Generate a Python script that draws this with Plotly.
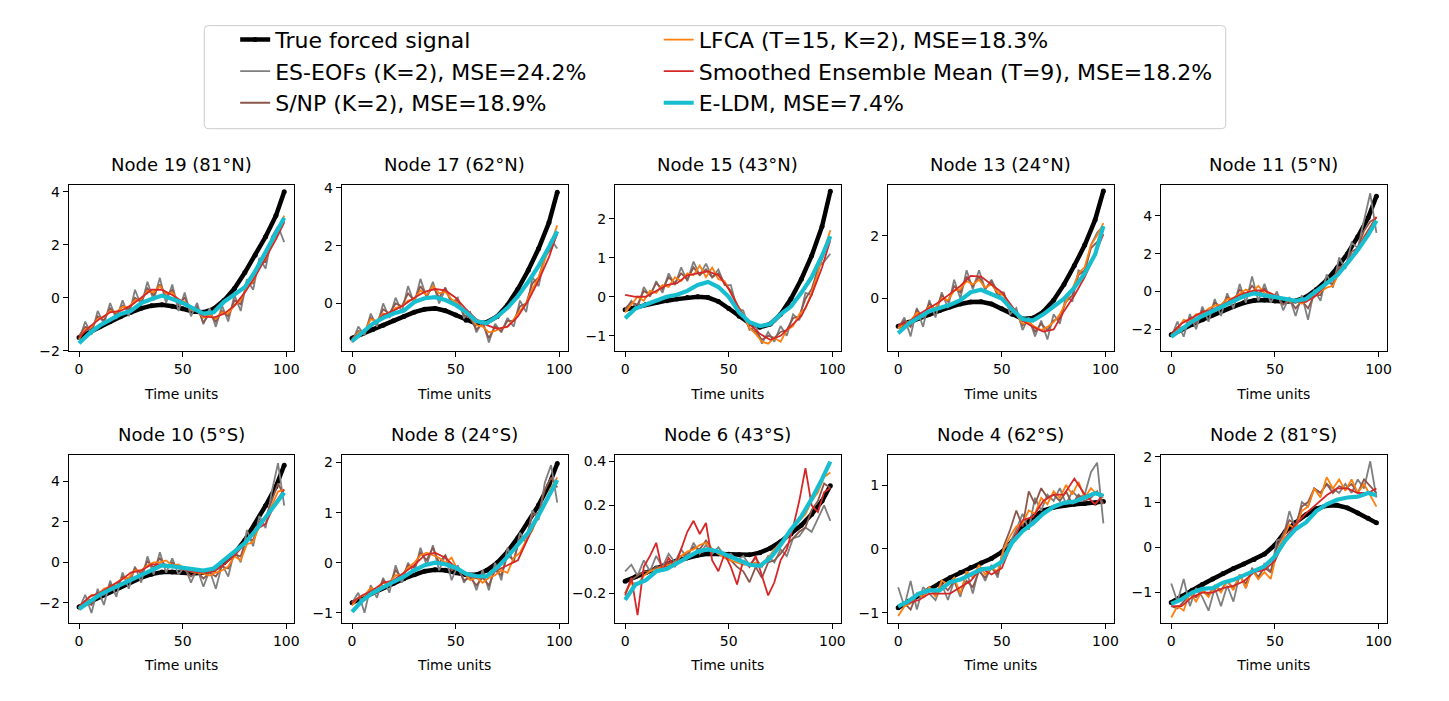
import plotly.graph_objects as go

W, H = 1449, 701

# ---------------- data ----------------
T_NOISY = list(range(0, 100, 3))          # 34 time points
T_SMOOTH = list(range(0, 100, 5)) + [99]  # 21 time points

titles = ["Node 19 (81°N)", "Node 17 (62°N)", "Node 15 (43°N)", "Node 13 (24°N)", "Node 11 (5°N)",
          "Node 10 (5°S)", "Node 8 (24°S)", "Node 6 (43°S)", "Node 4 (62°S)", "Node 2 (81°S)"]

series_names = ["True forced signal", "ES-EOFs (K=2), MSE=24.2%", "S/NP (K=2), MSE=18.9%",
                "LFCA (T=15, K=2), MSE=18.3%", "Smoothed Ensemble Mean (T=9), MSE=18.2%", "E-LDM, MSE=7.4%"]

# Node 19
true_n19 = [-1.5, -1.3, -1.1, -0.9, -0.72, -0.55, -0.4, -0.3, -0.27, -0.32, -0.42, -0.52, -0.55, -0.42, -0.1, 0.35, 0.95, 1.6, 2.3, 3.1, 4.0]
eseofs_n19 = [-1.6, -0.9, -1.4, -0.5, -1.0, -0.2, -0.8, -0.1, -0.7, 0.3, -0.3, 0.6, -0.1, 0.75, -0.2, 0.5, -0.5, 0.2, -0.7, -0.2, -1.0, -0.4, -1.1, -0.3, -0.9, 0.1, -0.5, 0.7, 0.3, 1.5, 1.1, 2.3, 2.7, 2.1]
snp_n19 = [-1.45, -1.1, -1.2, -0.7, -0.85, -0.4, -0.65, -0.3, -0.45, 0.0, -0.15, 0.35, 0.1, 0.5, 0.05, 0.3, -0.25, 0.0, -0.5, -0.35, -0.95, -0.6, -0.9, -0.5, -0.7, -0.1, -0.25, 0.5, 0.55, 1.3, 1.35, 2.1, 2.4, 2.9]
lfca_n19 = [-1.55, -1.2, -1.1, -0.8, -0.72, -0.5, -0.55, -0.35, -0.35, -0.1, -0.05, 0.25, 0.2, 0.45, 0.15, 0.2, -0.1, -0.15, -0.45, -0.5, -0.75, -0.65, -0.8, -0.55, -0.6, -0.3, -0.1, 0.4, 0.6, 1.2, 1.45, 2.0, 2.5, 3.1]
sem_n19 = [-1.5, -1.1, -0.8, -0.55, -0.5, -0.3, 0.0, 0.3, 0.3, 0.1, -0.15, -0.4, -0.7, -0.75, -0.6, -0.3, 0.2, 0.8, 1.5, 2.2, 2.85]
eldm_n19 = [-1.72, -1.35, -1.05, -0.82, -0.62, -0.5, -0.2, -0.05, 0.08, -0.05, -0.2, -0.4, -0.6, -0.55, -0.15, 0.12, 0.4, 1.0, 1.75, 2.45, 3.02]

# Node 17
true_n17 = [-1.2, -1.05, -0.9, -0.75, -0.6, -0.45, -0.3, -0.2, -0.17, -0.25, -0.4, -0.58, -0.7, -0.65, -0.45, -0.05, 0.5, 1.15, 1.9, 2.8, 3.85]
eseofs_n17 = [-1.35, -0.8, -1.1, -0.35, -0.8, 0.0, -0.5, 0.2, -0.3, 0.6, 0.0, 0.85, 0.2, 0.75, 0.0, 0.5, 0.0, 0.2, -0.5, -0.3, -1.0, -0.6, -1.35, -0.7, -1.0, -0.5, -0.8, 0.1, -0.3, 0.9, 0.6, 1.6, 2.2, 1.9]
snp_n17 = [-1.3, -0.95, -1.0, -0.5, -0.65, -0.2, -0.35, 0.0, -0.1, 0.35, 0.1, 0.6, 0.25, 0.6, 0.2, 0.55, 0.05, 0.1, -0.4, -0.5, -0.9, -0.7, -1.2, -0.8, -0.95, -0.6, -0.6, -0.1, 0.0, 0.7, 0.9, 1.6, 1.9, 2.4]
lfca_n17 = [-1.25, -1.0, -0.95, -0.55, -0.6, -0.35, -0.4, -0.15, -0.1, 0.1, 0.15, 0.45, 0.3, 0.6, 0.35, 0.4, 0.15, 0.0, -0.3, -0.45, -0.75, -0.8, -1.0, -0.95, -0.85, -0.8, -0.55, -0.25, 0.0, 0.5, 0.9, 1.5, 2.1, 2.7]
sem_n17 = [-1.2, -1.0, -0.75, -0.4, -0.25, -0.05, 0.2, 0.4, 0.5, 0.45, 0.2, -0.2, -0.55, -0.75, -0.88, -0.8, -0.45, 0.1, 0.8, 1.6, 2.45]
eldm_n17 = [-1.3, -1.0, -0.7, -0.5, -0.35, -0.25, 0.05, 0.18, 0.22, 0.12, -0.05, -0.3, -0.62, -0.68, -0.45, -0.15, 0.25, 0.75, 1.3, 1.95, 2.5]

# Node 15
true_n15 = [-0.33, -0.27, -0.2, -0.15, -0.1, -0.06, -0.02, 0.0, -0.02, -0.12, -0.3, -0.5, -0.68, -0.78, -0.7, -0.45, -0.05, 0.45, 1.05, 1.8, 2.7]
eseofs_n15 = [-0.35, -0.1, -0.3, 0.25, 0.0, 0.4, 0.1, 0.6, 0.3, 0.75, 0.4, 0.9, 0.55, 0.85, 0.5, 0.7, 0.3, 0.3, -0.3, -0.35, -0.85, -0.75, -1.2, -0.9, -1.15, -0.75, -1.0, -0.45, -0.6, 0.1, 0.05, 0.75, 0.9, 1.1]
snp_n15 = [-0.3, -0.15, -0.2, 0.15, 0.05, 0.35, 0.2, 0.5, 0.35, 0.6, 0.45, 0.75, 0.55, 0.7, 0.5, 0.6, 0.35, 0.15, -0.2, -0.5, -0.8, -0.9, -1.1, -1.0, -1.05, -0.9, -0.85, -0.55, -0.5, -0.05, 0.2, 0.7, 1.1, 1.5]
lfca_n15 = [-0.4, -0.2, 0.0, -0.1, 0.15, 0.1, 0.3, 0.25, 0.5, 0.4, 0.6, 0.55, 0.8, 0.5, 0.75, 0.45, 0.4, 0.1, -0.2, -0.45, -0.8, -0.95, -1.15, -1.2, -1.05, -1.15, -0.85, -0.75, -0.45, -0.3, 0.1, 0.6, 1.2, 1.7]
sem_n15 = [0.05, 0.0, 0.0, 0.15, 0.3, 0.35, 0.55, 0.6, 0.65, 0.55, 0.2, -0.3, -0.7, -0.95, -1.1, -1.0, -0.75, -0.5, 0.05, 0.75, 1.45]
eldm_n15 = [-0.55, -0.3, -0.2, -0.1, 0.0, 0.05, 0.15, 0.3, 0.38, 0.25, 0.0, -0.4, -0.65, -0.75, -0.7, -0.45, -0.25, 0.1, 0.5, 1.05, 1.55]

# Node 13
true_n13 = [-0.88, -0.75, -0.62, -0.5, -0.38, -0.27, -0.17, -0.11, -0.1, -0.17, -0.32, -0.5, -0.65, -0.62, -0.42, -0.05, 0.45, 1.05, 1.7, 2.5, 3.42]
eseofs_n13 = [-0.95, -0.6, -1.2, -0.3, -0.9, -0.05, -0.6, 0.2, -0.3, 0.6, 0.0, 0.9, 0.3, 0.9, 0.3, 0.6, 0.2, 0.2, -0.5, -0.3, -1.0, -0.6, -1.2, -0.7, -1.3, -0.5, -0.8, 0.1, -0.1, 0.9, 0.8, 1.7, 2.1, 2.3]
snp_n13 = [-0.9, -0.7, -0.9, -0.35, -0.6, -0.15, -0.35, 0.1, -0.1, 0.4, 0.2, 0.7, 0.4, 0.7, 0.3, 0.55, 0.1, 0.15, -0.35, -0.4, -0.85, -0.7, -1.05, -0.8, -1.0, -0.7, -0.6, -0.1, 0.1, 0.75, 0.9, 1.6, 1.8, 2.2]
lfca_n13 = [-0.95, -0.8, -0.7, -0.45, -0.5, -0.25, -0.3, 0.0, -0.05, 0.25, 0.3, 0.55, 0.45, 0.6, 0.35, 0.45, 0.2, 0.1, -0.3, -0.5, -0.8, -0.75, -0.9, -1.0, -0.9, -0.75, -0.5, -0.1, 0.3, 0.8, 1.0, 1.7, 2.0, 2.4]
sem_n13 = [-0.85, -0.75, -0.5, -0.3, -0.1, 0.15, 0.4, 0.72, 0.7, 0.45, 0.2, -0.25, -0.7, -0.9, -1.05, -0.98, -0.4, 0.1, 0.68, 1.4, 2.05]
eldm_n13 = [-1.1, -0.8, -0.6, -0.4, -0.3, -0.2, -0.05, 0.2, 0.28, 0.15, 0.0, -0.35, -0.65, -0.7, -0.5, -0.25, 0.0, 0.35, 0.8, 1.4, 2.3]

# Node 11
true_n11 = [-2.3, -2.0, -1.75, -1.5, -1.25, -1.0, -0.8, -0.6, -0.48, -0.45, -0.5, -0.55, -0.5, -0.3, 0.1, 0.6, 1.25, 2.0, 2.9, 3.9, 5.05]
eseofs_n11 = [-2.4, -1.6, -2.4, -1.2, -2.0, -0.8, -1.6, -0.4, -1.3, -0.1, -0.9, 0.4, -0.6, 0.8, -0.5, 0.4, -0.6, 0.0, -1.0, -0.3, -1.3, -0.2, -1.5, 0.1, -0.5, 0.9, 0.2, 1.8, 1.2, 2.6, 2.3, 3.8, 5.2, 3.1]
snp_n11 = [-2.3, -1.9, -2.0, -1.4, -1.7, -1.0, -1.2, -0.6, -0.8, -0.3, -0.5, 0.1, -0.2, 0.3, -0.1, 0.15, -0.3, -0.2, -0.7, -0.4, -0.9, -0.5, -0.9, -0.2, -0.2, 0.5, 0.4, 1.3, 1.3, 2.1, 2.3, 3.2, 3.7, 3.9]
lfca_n11 = [-2.3, -2.0, -1.5, -1.6, -1.2, -1.2, -0.9, -0.75, -0.7, -0.4, -0.35, -0.1, 0.1, -0.05, 0.3, -0.1, -0.1, -0.3, -0.4, -0.55, -0.5, -0.65, -0.45, -0.3, 0.0, 0.2, 0.3, 1.0, 1.3, 1.8, 2.2, 2.9, 3.4, 3.95]
sem_n11 = [-2.25, -1.7, -1.4, -1.1, -0.95, -0.7, -0.35, -0.1, 0.05, 0.05, -0.2, -0.45, -0.55, -0.55, -0.2, 0.4, 1.0, 1.6, 2.3, 3.2, 3.95]
eldm_n11 = [-2.4, -2.0, -1.6, -1.3, -1.05, -0.8, -0.55, -0.25, -0.1, -0.2, -0.3, -0.45, -0.5, -0.4, 0.0, 0.45, 0.85, 1.5, 2.2, 3.0, 3.75]

# Node 10
true_n10 = [-2.2, -1.95, -1.7, -1.45, -1.2, -0.95, -0.75, -0.58, -0.48, -0.47, -0.5, -0.55, -0.5, -0.35, 0.0, 0.45, 1.1, 1.9, 2.8, 3.75, 4.8]
eseofs_n10 = [-2.3, -1.6, -2.5, -1.3, -2.1, -0.9, -1.7, -0.5, -1.3, -0.2, -1.0, 0.3, -0.6, 0.5, -0.5, 0.2, -0.6, -0.2, -1.0, -0.3, -1.2, -0.4, -1.3, -0.1, -0.7, 0.6, 0.0, 1.6, 0.8, 2.3, 1.7, 3.5, 4.9, 2.8]
snp_n10 = [-2.2, -1.9, -2.1, -1.5, -1.6, -1.1, -1.2, -0.7, -0.85, -0.3, -0.55, 0.05, -0.25, 0.2, -0.2, 0.0, -0.3, -0.35, -0.7, -0.45, -0.8, -0.5, -0.7, -0.2, -0.3, 0.4, 0.3, 1.2, 1.1, 2.0, 2.2, 3.1, 3.9, 3.3]
lfca_n10 = [-2.35, -2.0, -1.6, -1.6, -1.3, -1.2, -1.0, -0.8, -0.75, -0.4, -0.4, -0.15, 0.0, 0.0, 0.1, -0.15, -0.1, -0.3, -0.45, -0.5, -0.55, -0.65, -0.5, -0.4, -0.2, 0.3, 0.1, 0.9, 1.0, 1.8, 2.2, 2.8, 3.5, 3.6]
sem_n10 = [-2.2, -1.7, -1.5, -1.2, -0.9, -0.5, -0.4, -0.1, -0.1, -0.15, -0.35, -0.45, -0.5, -0.45, -0.1, 0.35, 0.9, 1.6, 1.9, 3.0, 3.6]
eldm_n10 = [-2.3, -1.95, -1.6, -1.35, -1.1, -0.85, -0.6, -0.35, -0.15, -0.2, -0.25, -0.35, -0.4, -0.3, 0.1, 0.55, 0.95, 1.55, 2.2, 2.9, 3.45]

# Node 8
true_n8 = [-0.8, -0.7, -0.6, -0.5, -0.41, -0.32, -0.24, -0.17, -0.14, -0.15, -0.2, -0.24, -0.24, -0.15, 0.0, 0.22, 0.5, 0.82, 1.15, 1.55, 1.98]
eseofs_n8 = [-0.8, -0.6, -1.0, -0.45, -0.7, -0.3, -0.6, -0.05, -0.4, 0.0, -0.2, 0.3, -0.05, 0.35, -0.15, 0.15, -0.35, -0.05, -0.4, -0.2, -0.55, -0.15, -0.55, 0.0, -0.35, 0.3, 0.0, 0.6, 0.4, 1.05, 0.85, 1.6, 1.95, 1.2]
snp_n8 = [-0.8, -0.7, -0.75, -0.5, -0.6, -0.35, -0.45, -0.15, -0.3, -0.05, -0.1, 0.2, 0.05, 0.3, 0.0, 0.15, -0.15, -0.1, -0.35, -0.3, -0.45, -0.3, -0.45, -0.15, -0.25, 0.15, 0.05, 0.5, 0.5, 0.95, 1.0, 1.45, 1.7, 1.5]
lfca_n8 = [-0.85, -0.7, -0.65, -0.5, -0.55, -0.4, -0.4, -0.25, -0.25, -0.1, 0.0, 0.15, 0.2, 0.15, 0.1, 0.0, 0.1, -0.15, -0.2, -0.35, -0.3, -0.4, -0.3, -0.25, -0.15, -0.2, 0.1, 0.2, 0.45, 0.65, 0.95, 1.2, 1.5, 1.7]
sem_n8 = [-0.8, -0.65, -0.55, -0.4, -0.35, -0.2, -0.05, 0.15, 0.2, 0.1, -0.1, -0.25, -0.3, -0.28, -0.15, -0.05, 0.05, 0.5, 0.95, 1.35, 1.6]
eldm_n8 = [-0.98, -0.75, -0.6, -0.48, -0.38, -0.28, -0.15, -0.05, 0.0, -0.03, -0.1, -0.22, -0.27, -0.27, -0.1, 0.12, 0.35, 0.6, 0.95, 1.35, 1.65]

# Node 6
true_n6 = [-0.145, -0.125, -0.105, -0.085, -0.068, -0.052, -0.038, -0.027, -0.02, -0.02, -0.022, -0.025, -0.025, -0.015, 0.005, 0.035, 0.07, 0.11, 0.16, 0.22, 0.29]
eseofs_n6 = [-0.1, -0.07, -0.12, -0.05, -0.1, -0.03, -0.08, -0.02, -0.06, 0.0, -0.04, 0.03, -0.02, 0.02, -0.02, 0.01, -0.03, -0.02, -0.05, -0.03, -0.07, -0.04, -0.08, -0.03, -0.06, 0.0, -0.03, 0.05, 0.06, 0.1, 0.08, 0.14, 0.2, 0.13]
snp_n6 = [-0.2, -0.14, -0.12, -0.1, -0.1, -0.08, -0.08, -0.06, -0.06, -0.03, -0.02, 0.01, 0.0, 0.04, 0.0, -0.02, -0.03, -0.05, -0.08, -0.1, -0.15, -0.08, -0.13, -0.06, -0.05, -0.02, 0.02, 0.05, 0.08, 0.1, 0.18, 0.22, 0.3, 0.28]
lfca_n6 = [-0.2, -0.15, -0.16, -0.12, -0.1, -0.09, -0.08, -0.07, -0.06, -0.03, -0.01, 0.0, 0.02, 0.03, 0.0, -0.02, -0.04, -0.05, -0.06, -0.07, -0.07, -0.06, -0.07, -0.04, 0.0, 0.03, 0.05, 0.1, 0.13, 0.16, 0.22, 0.26, 0.33, 0.35]
sem_n6 = [-0.21, -0.13, -0.3, -0.08, -0.03, 0.03, -0.1, -0.04, -0.08, 0.0, 0.08, 0.13, 0.07, 0.12, -0.05, -0.1, -0.02, -0.08, -0.16, -0.05, -0.08, -0.03, -0.12, -0.21, -0.15, -0.05, 0.0, 0.1, 0.22, 0.37, 0.2, 0.17, 0.26, 0.28]
eldm_n6 = [-0.23, -0.16, -0.14, -0.1, -0.09, -0.065, -0.04, -0.01, 0.0, -0.01, -0.03, -0.05, -0.07, -0.075, -0.04, 0.02, 0.09, 0.15, 0.23, 0.32, 0.4]

# Node 4
true_n4 = [-0.92, -0.82, -0.72, -0.63, -0.54, -0.45, -0.37, -0.29, -0.22, -0.15, -0.05, 0.12, 0.33, 0.5, 0.6, 0.65, 0.68, 0.7, 0.71, 0.72, 0.74]
eseofs_n4 = [-0.6, -0.9, -0.5, -0.95, -0.6, -0.7, -0.8, -0.55, -0.8, -0.5, -0.75, -0.35, -0.7, -0.3, -0.5, -0.25, -0.45, 0.0, 0.1, 0.3, 0.55, 0.3, 0.8, 0.6, 0.85, 0.75, 0.95, 0.7, 0.9, 0.8, 0.85, 1.2, 1.35, 0.4]
snp_n4 = [-0.9, -0.85, -0.95, -0.7, -0.75, -0.6, -0.7, -0.55, -0.65, -0.5, -0.7, -0.5, -0.6, -0.35, -0.45, -0.3, -0.4, 0.05, 0.3, 0.6, 0.35, 0.9, 0.7, 0.95, 0.8, 0.85, 0.75, 0.9, 0.7, 0.85, 0.75, 0.8, 0.9, 0.7]
lfca_n4 = [-1.05, -0.9, -0.85, -0.7, -0.75, -0.6, -0.75, -0.5, -0.55, -0.45, -0.7, -0.35, -0.45, -0.25, -0.4, -0.3, -0.35, 0.0, 0.2, 0.35, 0.4, 0.6, 0.55, 0.8, 0.7, 0.9, 0.8, 1.0, 0.85, 1.05, 0.8, 0.95, 0.85, 0.8]
sem_n4 = [-0.9, -0.85, -0.8, -0.7, -0.7, -0.7, -0.6, -0.5, -0.3, -0.4, -0.3, 0.1, 0.45, 0.5, 0.75, 0.85, 0.85, 1.1, 0.85, 0.7, 0.85]
eldm_n4 = [-0.9, -0.82, -0.7, -0.65, -0.65, -0.52, -0.48, -0.4, -0.32, -0.3, -0.2, 0.1, 0.28, 0.4, 0.55, 0.66, 0.72, 0.74, 0.8, 0.87, 0.83]

# Node 2
true_n2 = [-1.22, -1.08, -0.95, -0.82, -0.7, -0.58, -0.47, -0.37, -0.27, -0.15, 0.05, 0.35, 0.55, 0.72, 0.85, 0.92, 0.93, 0.87, 0.76, 0.64, 0.54]
eseofs_n2 = [-0.8, -1.2, -0.7, -1.3, -0.9, -1.1, -1.4, -0.9, -1.3, -0.85, -1.2, -0.6, -0.9, -0.45, -0.7, -0.35, -0.55, 0.15, 0.2, 0.8, 0.4, 1.0, 0.9, 1.3, 1.2, 1.4, 1.3, 1.2, 1.4, 1.2, 1.5, 1.3, 1.9, 1.1]
snp_n2 = [-1.3, -1.35, -1.2, -1.05, -1.1, -0.95, -1.05, -0.85, -0.95, -0.75, -0.9, -0.65, -0.8, -0.5, -0.65, -0.45, -0.55, 0.0, 0.3, 0.6, 0.5, 0.9, 1.0, 1.3, 1.2, 1.4, 1.2, 1.35, 1.3, 1.4, 1.2, 1.5, 1.35, 1.2]
lfca_n2 = [-1.55, -1.3, -1.4, -1.0, -1.2, -0.95, -1.1, -0.85, -1.0, -0.75, -0.95, -0.6, -0.9, -0.5, -0.7, -0.55, -0.7, -0.1, 0.2, 0.5, 0.4, 0.8, 0.9, 1.3, 1.1, 1.55, 1.3, 1.5, 1.25, 1.5, 1.2, 1.4, 1.15, 0.9]
sem_n2 = [-1.3, -1.3, -1.1, -1.0, -1.0, -0.9, -0.85, -0.75, -0.55, -0.5, -0.3, 0.2, 0.5, 0.75, 0.95, 1.15, 1.3, 1.3, 1.2, 1.2, 1.3]
eldm_n2 = [-1.25, -1.15, -1.0, -0.92, -0.9, -0.78, -0.72, -0.62, -0.5, -0.42, -0.2, 0.15, 0.4, 0.55, 0.8, 0.95, 1.05, 1.1, 1.12, 1.2, 1.15]

panels = [
    (true_n19, eseofs_n19, snp_n19, lfca_n19, sem_n19, eldm_n19),
    (true_n17, eseofs_n17, snp_n17, lfca_n17, sem_n17, eldm_n17),
    (true_n15, eseofs_n15, snp_n15, lfca_n15, sem_n15, eldm_n15),
    (true_n13, eseofs_n13, snp_n13, lfca_n13, sem_n13, eldm_n13),
    (true_n11, eseofs_n11, snp_n11, lfca_n11, sem_n11, eldm_n11),
    (true_n10, eseofs_n10, snp_n10, lfca_n10, sem_n10, eldm_n10),
    (true_n8, eseofs_n8, snp_n8, lfca_n8, sem_n8, eldm_n8),
    (true_n6, eseofs_n6, snp_n6, lfca_n6, sem_n6, eldm_n6),
    (true_n4, eseofs_n4, snp_n4, lfca_n4, sem_n4, eldm_n4),
    (true_n2, eseofs_n2, snp_n2, lfca_n2, sem_n2, eldm_n2),
]

y_ticks = [[-2, 0, 2, 4], [0, 2, 4], [-1, 0, 1, 2], [0, 2], [-2, 0, 2, 4],
           [-2, 0, 2, 4], [-1, 0, 1, 2], [-0.2, 0.0, 0.2, 0.4], [-1, 0, 1], [-1, 0, 1, 2]]

# ---------------- layout / styles ----------------
Y_RANGES = [[-2.03, 4.27], [-1.66, 4.11], [-1.40, 2.87], [-1.68, 3.62], [-3.18, 5.66],
            [-3.01, 5.33], [-1.21, 2.16], [-0.337, 0.432], [-1.165, 1.477], [-1.68, 2.05]]
X_RANGE = [-4.95, 103.95]
AX_LEFT = [69, 343, 617, 891, 1165]
AX_W = 226.5
ROW_TOP = [182, 457]
ROW_BOT = [352, 629]

COLORS = ["#000000", "#7f7f7f", "#8c564b", "#ff7f0e", "#d62728", "#17becf"]
WIDTHS = [4.5, 1.8, 1.8, 1.8, 1.8, 4.2]
FONT = "DejaVu Sans"


def px(x):
    return x / W


def py(y):
    return 1 - y / H


fig = go.Figure()
layout = {}
annotations = []

for i, series in enumerate(panels):
    r, c = divmod(i, 5)
    n = i + 1
    xa = "x" if n == 1 else f"x{n}"
    ya = "y" if n == 1 else f"y{n}"
    for s, vals in enumerate(series):
        tt = T_NOISY if len(vals) == len(T_NOISY) else T_SMOOTH
        is_true = s == 0
        fig.add_trace(go.Scatter(
            x=tt, y=vals, xaxis=xa, yaxis=ya,
            mode="lines+markers" if is_true else "lines",
            line=dict(color=COLORS[s], width=WIDTHS[s]),
            marker=dict(size=5, color=COLORS[s]) if is_true else None,
            name=series_names[s], legendgroup=series_names[s],
            showlegend=(i == 0),
            legend="legend" if s < 3 else "legend2",
        ))
    x0, x1 = AX_LEFT[c], AX_LEFT[c] + AX_W
    y0, y1 = ROW_TOP[r], ROW_BOT[r]
    common = dict(showline=True, mirror=True, linecolor="black", linewidth=1,
                  ticks="outside", ticklen=5, tickwidth=1, tickcolor="black",
                  showgrid=False, zeroline=False,
                  tickfont=dict(family=FONT, size=14, color="black"))
    layout["xaxis" if n == 1 else f"xaxis{n}"] = dict(
        domain=[px(x0), px(x1)], anchor=ya, range=X_RANGE, tickvals=[0, 50, 100],
        title=dict(text="Time units", font=dict(family=FONT, size=14, color="black"), standoff=12),
        **common)
    layout["yaxis" if n == 1 else f"yaxis{n}"] = dict(
        domain=[py(y1), py(y0)], anchor=xa, range=Y_RANGES[i], tickvals=y_ticks[i],
        tickformat=".1f" if i == 7 else "d", **common)
    annotations.append(dict(
        text=titles[i], x=px((x0 + x1) / 2), y=py(y0 - 8), xref="paper", yref="paper",
        xanchor="center", yanchor="bottom", showarrow=False,
        font=dict(family=FONT, size=18, color="black")))

legend_common = dict(xanchor="left", yanchor="top", orientation="v",
                     font=dict(family=FONT, size=22, color="black"),
                     bgcolor="rgba(0,0,0,0)", borderwidth=0, tracegroupgap=0)

# rounded legend frame (paper coordinates)
LX0, LX1, LY0, LY1, RAD = 205, 1230, 20, 125, 4
rx, ry = RAD / W, RAD / H
fx0, fx1, fy_top, fy_bot = px(LX0), px(LX1), py(LY0), py(LY1)
frame_path = (f"M {fx0 + rx} {fy_top} L {fx1 - rx} {fy_top} Q {fx1} {fy_top} {fx1} {fy_top - ry} "
              f"L {fx1} {fy_bot + ry} Q {fx1} {fy_bot} {fx1 - rx} {fy_bot} "
              f"L {fx0 + rx} {fy_bot} Q {fx0} {fy_bot} {fx0} {fy_bot + ry} "
              f"L {fx0} {fy_top - ry} Q {fx0} {fy_top} {fx0 + rx} {fy_top} Z")

fig.update_layout(
    width=W, height=H, margin=dict(l=0, r=0, t=0, b=0),
    paper_bgcolor="white", plot_bgcolor="white",
    font=dict(family=FONT, color="black"),
    annotations=annotations,
    legend=dict(x=px(236), y=py(13), **legend_common),
    legend2=dict(x=px(661), y=py(13), **legend_common),
    shapes=[dict(type="path", xref="paper", yref="paper", path=frame_path,
                 line=dict(color="#cccccc", width=1), fillcolor="white", layer="below")],
    **layout,
)

fig.write_html("out.html", config={"displayModeBar": False},
               post_script="document.body.style.margin='0px';")
